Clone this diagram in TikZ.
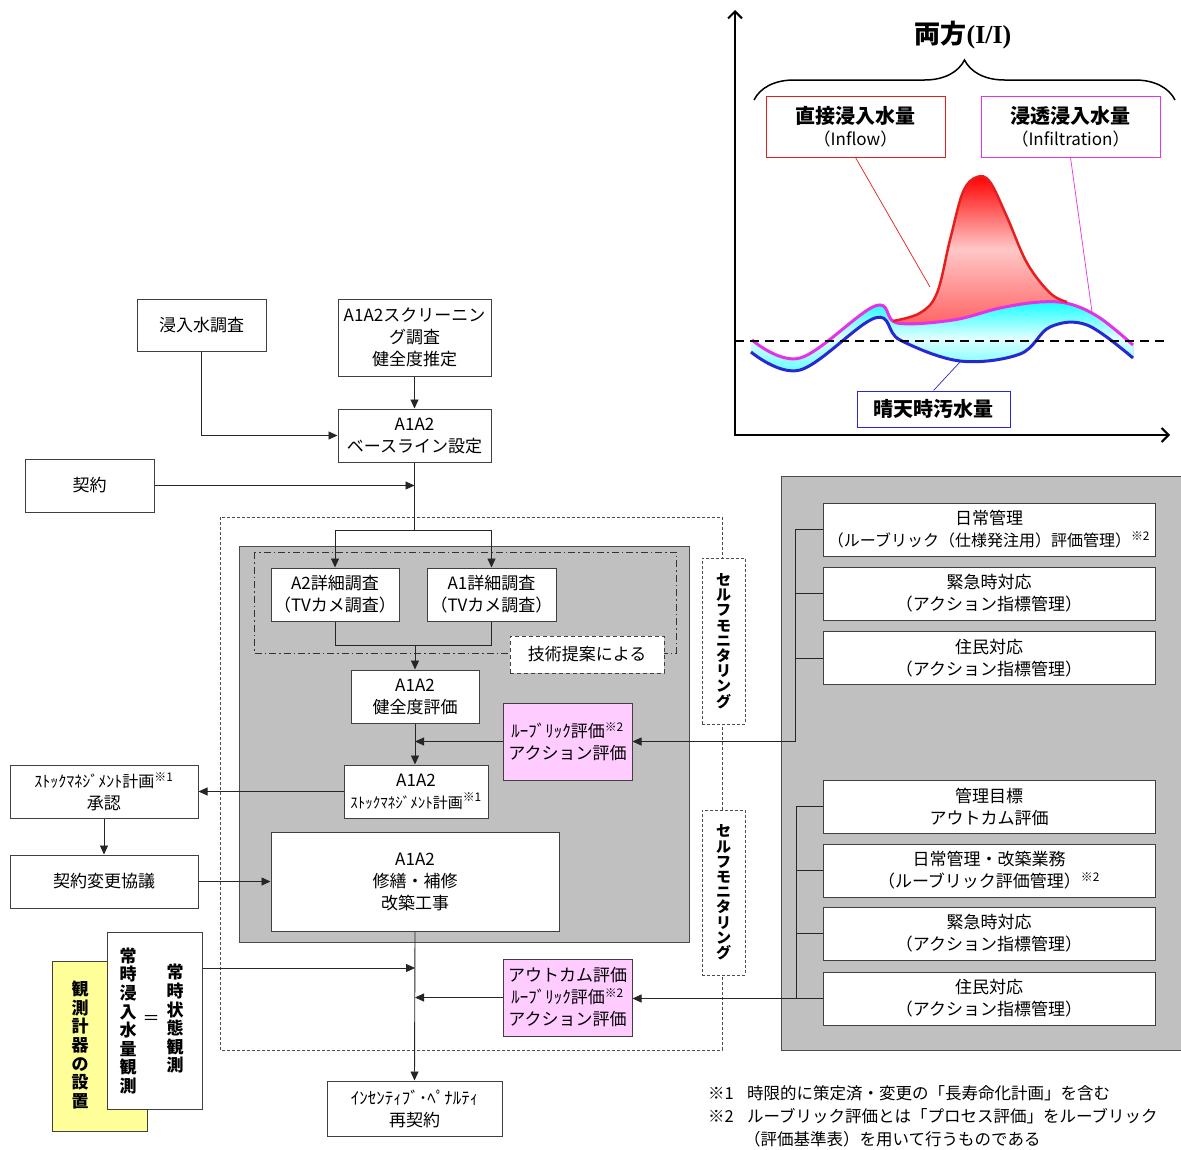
\documentclass[tikz,border=0pt]{standalone}
\usepackage{fontspec}
\setmainfont{Noto Sans CJK JP}
\newfontfamily\serifI{Liberation Serif}
\usetikzlibrary{arrows.meta,decorations.pathreplacing,calc}
\definecolor{gboxfill}{RGB}{192,192,192}
\definecolor{pinkfill}{RGB}{255,204,255}
\definecolor{yelfill}{RGB}{255,255,153}
\definecolor{redline}{RGB}{230,30,30}
\definecolor{magline}{RGB}{230,50,230}
\definecolor{blueline}{RGB}{40,40,210}
\newcommand\myfs{\fontsize{17}{22}\selectfont}
\newcommand\mysup[1]{\textsuperscript{#1}}
\begin{document}
\begin{tikzpicture}[x=1pt,y=-1pt,
  every node/.style={inner sep=0pt, font=\myfs},
  box/.style={draw=black!75, line width=1pt, fill=white, align=center},
  pinkbox/.style={box, fill=pinkfill},
  arr/.style={draw=black!85, line width=0.9pt, -{Triangle[length=9pt,width=8pt]}},
  ln/.style={draw=black!85, line width=0.9pt},
  vtxt/.style={align=center, font=\fontsize{17}{18.6}\selectfont\bfseries},
  smtxt/.style={align=center, font=\fontsize{15}{15.2}\selectfont\bfseries},
  graybox/.style={fill=gboxfill, draw=black!70, line width=1pt},
  smbox/.style={draw=black!70, fill=white, line width=0.8pt, dash pattern=on 3pt off 2pt},
  rbox/.style={box, minimum width=332, minimum height=53},
  chartbox/.style={draw, fill=white, line width=1pt, align=center},
]
\useasboundingbox (0,0) rectangle (1181,1149);
\fill[white] (0,0) rectangle (1181,1149);

% ================= chart =================
\fill[top color=cyan!95, bottom color=cyan!65, middle color=cyan!12]
  plot[smooth, tension=0.6] coordinates {(752,340) (800,358) (875,306) (897,323) (953,320) (1000,308) (1040,302) (1070,304) (1100,318) (1133,345)}
  -- plot[smooth, tension=0.6] coordinates {(1133,358) (1087,325) (1050,327) (1020,354) (960,361) (900,340) (875,318) (800,370) (751,352)} -- cycle;
\fill[top color=red, bottom color=red!60, middle color=red!22]
  plot[smooth, tension=0.6] coordinates {(893,321) (920,313) (937,293) (950,240) (963,192) (977,177) (990,182) (1007,217) (1027,263) (1050,293) (1067,302)}
  -- plot[smooth, tension=0.6] coordinates {(1067,303) (1040,302) (1000,308) (953,320) (897,323)} -- cycle;
\draw[blueline, line width=3pt] plot[smooth, tension=0.6] coordinates {(751,352) (800,370) (875,318) (900,340) (960,361) (1020,354) (1050,327) (1087,325) (1133,358)};
\draw[magline, line width=3pt] plot[smooth, tension=0.6] coordinates {(752,340) (800,358) (875,306) (897,323) (953,320) (1000,308) (1040,302) (1070,304) (1100,318) (1133,345)};
\draw[redline, line width=2.5pt] plot[smooth, tension=0.6] coordinates {(893,321) (920,313) (937,293) (950,240) (963,192) (977,177) (990,182) (1007,217) (1027,263) (1050,293) (1067,302)};
\draw[line width=2pt, dash pattern=on 9pt off 6pt] (735,341) -- (1166,341);
\draw[line width=2pt, {Straight Barb[length=7pt,width=14pt]}-{Straight Barb[length=7pt,width=14pt]}] (735,10) -- (735,435) -- (1170,435);

\draw[line width=1.5pt, decorate, decoration={brace, amplitude=40pt}] (754,100) -- (1175,100);
\node (title) at (963,35) {\fontsize{26}{28}\selectfont\bfseries 両方{\serifI (I/I)}};

\node[chartbox, draw=redline, minimum width=179, minimum height=61] (redbox) at (855.5,126.5)
  {{\fontsize{20}{26}\selectfont\bfseries 直接浸入水量}\\（Inflow）};
\node[chartbox, draw=magline, minimum width=179, minimum height=61] (magbox) at (1070.5,126.5)
  {{\fontsize{20}{26}\selectfont\bfseries 浸透浸入水量}\\（Infiltration）};
\node[chartbox, draw=blueline, minimum width=153, minimum height=36] (bluebox) at (933.5,409)
  {\fontsize{20}{24}\selectfont\bfseries 晴天時汚水量};
\coordinate (rl) at (930,287);
\coordinate (ml) at (1092,312);
\coordinate (bl) at (960,362);
\draw[redline, line width=0.7pt] (redbox.south) -- (rl);
\draw[magline, line width=0.7pt] (magbox.south) -- (ml);
\draw[blueline, line width=0.7pt] (bluebox.north) -- (bl);

% ================= background frames =================
\draw[black!70, line width=0.8pt, dash pattern=on 3pt off 2pt] (220,517) rectangle (722,1050);
\draw[graybox] (239,546) rectangle (689,942);
\draw[graybox] (781,476) rectangle (1183,1050);
\draw[black!80, line width=0.9pt, dash pattern=on 7pt off 3pt on 1.5pt off 3pt] (254,552) rectangle (676,653);

% ================= flow nodes =================
\node[box, minimum width=129, minimum height=52] (shin) at (201.5,325) {浸入水調査};
\node[box, minimum width=153, minimum height=77] (scr) at (414.5,337.5) {A1A2スクリーニン\\グ調査\\健全度推定};
\node[box, minimum width=153, minimum height=53] (base) at (414.5,435.5) {A1A2\\ベースライン設定};
\node[box, minimum width=129, minimum height=53] (kei) at (89.5,485.5) {契約};
\node[box, minimum width=128, minimum height=53] (a2) at (335,594.5) {A2詳細調査\\（TVカメ調査）};
\node[box, minimum width=129, minimum height=53] (a1) at (491.5,594.5) {A1詳細調査\\（TVカメ調査）};
\node[box, dash pattern=on 4pt off 3pt, minimum width=154, minimum height=37] (gijutsu) at (587,654.5) {技術提案による};
\node[box, minimum width=128, minimum height=53] (ken) at (415,696.5) {A1A2\\健全度評価};
\node[pinkbox, minimum width=129, minimum height=77] (pink1) at (567.5,741.5) {ﾙｰﾌﾞﾘｯｸ評価\mysup{※2}\\アクション評価};
\node[box, minimum width=144, minimum height=53] (stock) at (416,791.5) {A1A2\\{\fontsize{15}{20}\selectfont ｽﾄｯｸﾏﾈｼﾞﾒﾝﾄ計画}\mysup{※1}};
\node[box, minimum width=188, minimum height=53] (appr) at (104,791.5) {{\fontsize{16}{20}\selectfont ｽﾄｯｸﾏﾈｼﾞﾒﾝﾄ計画}\mysup{※1}\\承認};
\node[box, minimum width=188, minimum height=53] (chg) at (104,881.5) {契約変更協議};
\node[box, minimum width=288, minimum height=99] (repair) at (415,881.5) {A1A2\\修繕・補修\\改築工事};
\node[pinkbox, minimum width=129, minimum height=77] (pink2) at (567.5,997.5) {アウトカム評価\\ﾙｰﾌﾞﾘｯｸ評価\mysup{※2}\\アクション評価};
\node[box, minimum width=175, minimum height=55] (inc) at (414.5,1108.5) {ｲﾝｾﾝﾃｨﾌﾞ･ﾍﾟﾅﾙﾃｨ\\再契約};

\node[box, fill=yelfill, minimum width=95, minimum height=170] (yel) at (99.5,1046) {};
\node[vtxt] (yeltxt) at (80,1045) {観\\測\\計\\器\\の\\設\\置};
\node[box, minimum width=95, minimum height=177] (obs) at (154.5,1020.5) {};
\node[vtxt] (obs1) at (175,1019) {常\\時\\状\\態\\観\\測};
\node[vtxt] (obs2) at (128,1021) {常\\時\\浸\\入\\水\\量\\観\\測};
\node[font=\fontsize{17}{18}\selectfont] (obseq) at (151,1020) {＝};

\node[smbox, minimum width=43, minimum height=166] (sm1) at (723.5,641) {};
\node[smtxt] at (sm1) {セ\\ル\\フ\\モ\\ニ\\タ\\リ\\ン\\グ};
\node[smbox, minimum width=43, minimum height=165] (sm2) at (723.5,892.5) {};
\node[smtxt] at (sm2) {セ\\ル\\フ\\モ\\ニ\\タ\\リ\\ン\\グ};

\node[rbox] (r1) at (989,529.5) {日常管理\\{\fontsize{16}{22}\selectfont（ルーブリック（仕様発注用）評価管理）}\mysup{※2}};
\node[rbox] (r2) at (989,593.5) {緊急時対応\\（アクション指標管理）};
\node[rbox] (r3) at (989,658) {住民対応\\（アクション指標管理）};
\node[rbox] (r4) at (989,806.5) {管理目標\\アウトカム評価};
\node[rbox] (r5) at (989,870.5) {日常管理・改築業務\\（ルーブリック評価管理）\mysup{※2}};
\node[rbox] (r6) at (989,933.5) {緊急時対応\\（アクション指標管理）};
\node[rbox] (r7) at (989,998.5) {住民対応\\（アクション指標管理）};

% ================= connectors =================
\draw[arr] (shin.south) |- (base.west);
\draw[arr] (scr.south) -- (base.north);
\draw[arr] (kei.east) -- (kei.east -| base.south);
\coordinate (split) at (414.5,530);
\draw[ln] (base.south) -- (split);
\draw[arr] (split) -| (a2.north);
\draw[arr] (split) -| (a1.north);
\coordinate (join) at (415,645);
\draw[ln] (a2.south) |- (join);
\draw[ln] (a1.south) |- (join);
\draw[arr] (join) -- (ken.north);
\draw[arr] (ken.south) -- (ken.south |- stock.north);
\draw[arr] (pink1.west) -- (pink1.west -| ken.south);
\coordinate (c1) at (795,741.5);
\draw[ln] (r1.west) -| (c1);
\draw[ln] (r2.west) -- (r2.west -| c1);
\draw[ln] (r3.west) -- (r3.west -| c1);
\draw[arr] (c1) -- (pink1.east);
\draw[arr] (stock.west) -- (appr.east);
\draw[arr] (appr.south) -- (chg.north);
\draw[arr] (chg.east) -- (repair.west);
\draw[arr] (repair.south) -- (inc.north);
\coordinate (o1) at (300,968);
\draw[arr] (o1 -| obs.east) -- (o1 -| repair.south);
\draw[arr] (pink2.west) -- (pink2.west -| repair.south);
\coordinate (c2) at (796,998.5);
\draw[ln] (r4.west) -| (c2);
\draw[ln] (r5.west) -- (r5.west -| c2);
\draw[ln] (r6.west) -- (r6.west -| c2);
\draw[arr] (r7.west) -- (r7.west -| pink2.east);

% ================= footnotes =================
\node[anchor=west, font=\fontsize{16.5}{23}\selectfont, align=left] (fn) at (708,1116)
  {\makebox[39pt][l]{※1}時限的に策定済・変更の「長寿命化計画」を含む\\
   \makebox[39pt][l]{※2}ルーブリック評価とは「プロセス評価」をルーブリック\\
   \makebox[36pt][l]{}（評価基準表）を用いて行うものである};
\end{tikzpicture}
\end{document}
